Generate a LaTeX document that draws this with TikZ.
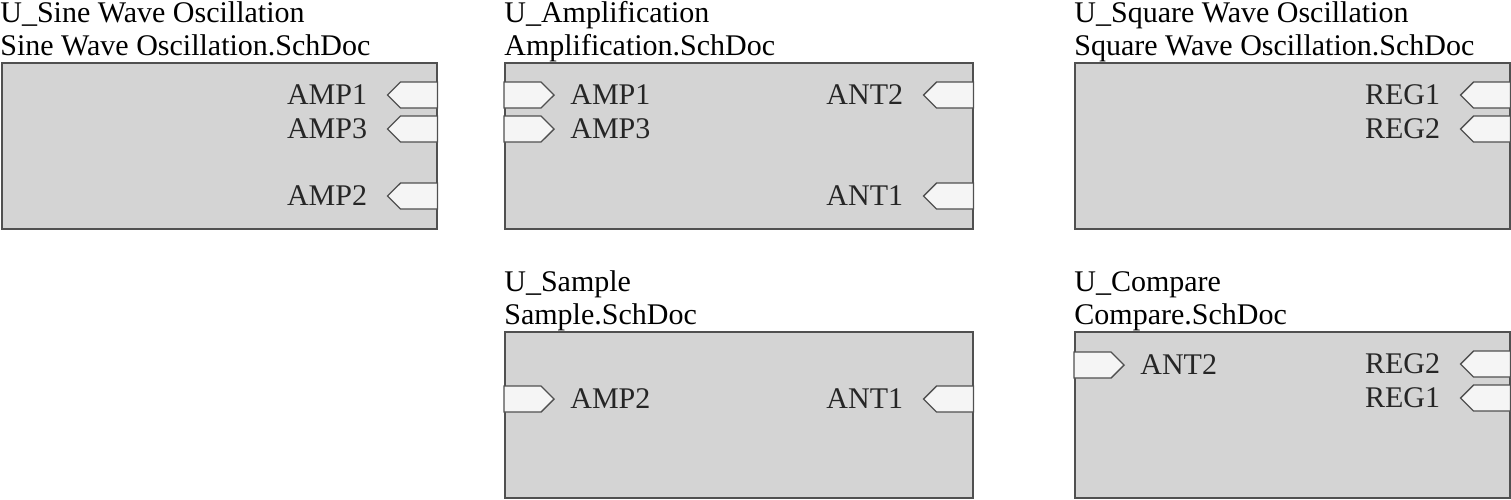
\documentclass[tikz,border=0pt]{standalone}
\usepackage{fontspec}
\setmainfont{Liberation Serif}
\usepackage{tikz}
\usetikzlibrary{shapes.symbols, positioning, calc}

\definecolor{sheetgray}{RGB}{212,212,212}
\definecolor{edgegray}{RGB}{80,80,80}
\definecolor{portwhite}{RGB}{245,245,245}

\begin{document}
\begin{tikzpicture}[
    x=0.5pt, y=-0.5pt,
    font=\fontsize{15}{16}\selectfont,
    sheet/.style={rectangle, draw=edgegray, fill=sheetgray, line width=0.75pt, anchor=north west, minimum height=83pt, inner sep=0},
    title/.style={anchor=base west, inner sep=0},
    portin/.style={signal, signal to=east, draw=edgegray, fill=portwhite, line width=0.7pt, minimum width=25pt, minimum height=13pt, inner sep=0, outer sep=0, anchor=west},
    portout/.style={signal, signal to=west, draw=edgegray, fill=portwhite, line width=0.7pt, minimum width=25pt, minimum height=13pt, inner sep=0, outer sep=0, anchor=east},
    plabel/.style={inner sep=0, text=black!85},
  ]
    \useasboundingbox (0,0) rectangle (1511,499);

    % sheet symbols
    \node[sheet, minimum width=217.5pt] (sine) at (1,62) {};
    \node[sheet, minimum width=234pt] (amp) at (504,62) {};
    \node[sheet, minimum width=217.5pt] (square) at (1074,62) {};
    \node[sheet, minimum width=234pt] (sample) at (504,331) {};
    \node[sheet, minimum width=217.5pt] (compare) at (1074,331) {};

    % designators and file names
    \node[title] (sineid) at ($(sine.north west)+(-1,-40)$) {U\_Sine Wave Oscillation};
    \node[title] (sinefile) at ($(sine.north west)+(-1,-7)$) {Sine Wave Oscillation.SchDoc};
    \node[title] (ampid) at ($(amp.north west)+(0,-40)$) {U\_Amplification};
    \node[title] (ampfile) at ($(amp.north west)+(0,-7)$) {Amplification.SchDoc};
    \node[title] (squareid) at ($(square.north west)+(0,-40)$) {U\_Square Wave Oscillation};
    \node[title] (squarefile) at ($(square.north west)+(0,-7)$) {Square Wave Oscillation.SchDoc};
    \node[title] (sampleid) at ($(sample.north west)+(0,-40)$) {U\_Sample};
    \node[title] (samplefile) at ($(sample.north west)+(0,-7)$) {Sample.SchDoc};
    \node[title] (compareid) at ($(compare.north west)+(0,-40)$) {U\_Compare};
    \node[title] (comparefile) at ($(compare.north west)+(0,-7)$) {Compare.SchDoc};

    % sheet entries
    \node[portout] (sineamp1) at ($(sine.north east)+(0,33)$) {};
    \node[portout] (sineamp3) at ($(sine.north east)+(0,67)$) {};
    \node[portout] (sineamp2) at ($(sine.north east)+(0,134)$) {};
    \node[plabel, left=10pt of sineamp1] {AMP1};
    \node[plabel, left=10pt of sineamp3] {AMP3};
    \node[plabel, left=10pt of sineamp2] {AMP2};

    \node[portin] (ampamp1) at ($(amp.north west)+(0,33)$) {};
    \node[portin] (ampamp3) at ($(amp.north west)+(0,67)$) {};
    \node[portout] (ampant2) at ($(amp.north east)+(0,33)$) {};
    \node[portout] (ampant1) at ($(amp.north east)+(0,134)$) {};
    \node[plabel, right=8pt of ampamp1] {AMP1};
    \node[plabel, right=8pt of ampamp3] {AMP3};
    \node[plabel, left=10pt of ampant2] {ANT2};
    \node[plabel, left=10pt of ampant1] {ANT1};

    \node[portout] (squarereg1) at ($(square.north east)+(0,33)$) {};
    \node[portout] (squarereg2) at ($(square.north east)+(0,67)$) {};
    \node[plabel, left=10pt of squarereg1] {REG1};
    \node[plabel, left=10pt of squarereg2] {REG2};

    \node[portin] (sampleamp2) at ($(sample.north west)+(0,68)$) {};
    \node[portout] (sampleant1) at ($(sample.north east)+(0,68)$) {};
    \node[plabel, right=8pt of sampleamp2] {AMP2};
    \node[plabel, left=10pt of sampleant1] {ANT1};

    \node[portin] (compareant2) at ($(compare.north west)+(0,34)$) {};
    \node[portout] (comparereg2) at ($(compare.north east)+(0,33)$) {};
    \node[portout] (comparereg1) at ($(compare.north east)+(0,67)$) {};
    \node[plabel, right=8pt of compareant2] {ANT2};
    \node[plabel, left=10pt of comparereg2] {REG2};
    \node[plabel, left=10pt of comparereg1] {REG1};
  \end{tikzpicture}
\end{document}
